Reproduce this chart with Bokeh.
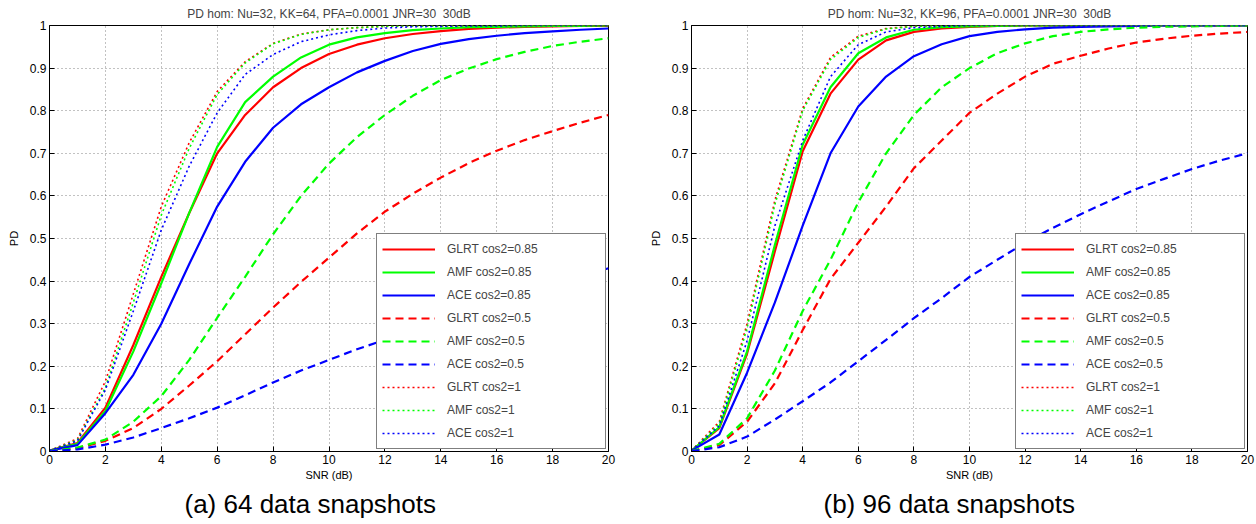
from bokeh.plotting import figure
from bokeh.models import Legend, LegendItem, Title, FixedTicker
from bokeh.layouts import row
from bokeh.embed import file_html
from bokeh.resources import INLINE

FONT = "Liberation Sans"

snr = list(range(21))
x_ticks = [0, 2, 4, 6, 8, 10, 12, 14, 16, 18, 20]
y_ticks = [0, 0.1, 0.2, 0.3, 0.4, 0.5, 0.6, 0.7, 0.8, 0.9, 1]
y_tick_labels = ["0", "0.1", "0.2", "0.3", "0.4", "0.5", "0.6", "0.7", "0.8", "0.9", "1"]

labels = ["GLRT cos2=0.85", "AMF cos2=0.85", "ACE cos2=0.85",
          "GLRT cos2=0.5", "AMF cos2=0.5", "ACE cos2=0.5",
          "GLRT cos2=1", "AMF cos2=1", "ACE cos2=1"]

# KK = 64
glrt085_64 = [0.002, 0.02, 0.103, 0.25, 0.41, 0.56, 0.70, 0.79, 0.855, 0.90, 0.933, 0.955, 0.97, 0.98, 0.987, 0.992, 0.995, 0.997, 0.998, 0.999, 0.999]
amf085_64 = [0.002, 0.018, 0.095, 0.235, 0.395, 0.56, 0.715, 0.82, 0.88, 0.925, 0.955, 0.972, 0.982, 0.989, 0.993, 0.996, 0.997, 0.998, 0.999, 0.999, 1.0]
ace085_64 = [0.002, 0.015, 0.09, 0.18, 0.30, 0.44, 0.575, 0.68, 0.76, 0.815, 0.855, 0.89, 0.917, 0.94, 0.957, 0.968, 0.976, 0.982, 0.986, 0.99, 0.993]
glrt05_64 = [0.001, 0.008, 0.025, 0.055, 0.10, 0.155, 0.212, 0.275, 0.338, 0.398, 0.455, 0.512, 0.563, 0.605, 0.643, 0.677, 0.706, 0.731, 0.752, 0.772, 0.79]
amf05_64 = [0.001, 0.009, 0.028, 0.07, 0.13, 0.215, 0.314, 0.41, 0.51, 0.60, 0.676, 0.738, 0.79, 0.835, 0.872, 0.899, 0.921, 0.938, 0.952, 0.962, 0.97]
ace05_64 = [0.001, 0.005, 0.016, 0.033, 0.055, 0.078, 0.103, 0.132, 0.162, 0.19, 0.215, 0.24, 0.262, 0.285, 0.307, 0.33, 0.35, 0.37, 0.39, 0.41, 0.43]
glrt1_64 = [0.002, 0.03, 0.165, 0.37, 0.575, 0.725, 0.845, 0.915, 0.958, 0.98, 0.99, 0.995, 0.998, 0.999, 0.999, 1, 1, 1, 1, 1, 1]
amf1_64 = [0.002, 0.027, 0.15, 0.35, 0.555, 0.712, 0.838, 0.912, 0.957, 0.979, 0.99, 0.995, 0.998, 0.999, 0.999, 1, 1, 1, 1, 1, 1]
ace1_64 = [0.002, 0.025, 0.145, 0.33, 0.52, 0.67, 0.795, 0.885, 0.932, 0.962, 0.978, 0.988, 0.994, 0.997, 0.998, 0.999, 0.999, 1, 1, 1, 1]

# KK = 96
glrt085_96 = [0.002, 0.055, 0.23, 0.47, 0.705, 0.84, 0.92, 0.965, 0.985, 0.993, 0.997, 0.999, 1, 1, 1, 1, 1, 1, 1, 1, 1]
amf085_96 = [0.002, 0.057, 0.235, 0.485, 0.72, 0.855, 0.935, 0.972, 0.99, 0.996, 0.998, 0.999, 1, 1, 1, 1, 1, 1, 1, 1, 1]
ace085_96 = [0.002, 0.04, 0.185, 0.35, 0.53, 0.70, 0.81, 0.88, 0.928, 0.956, 0.975, 0.985, 0.991, 0.995, 0.997, 0.998, 0.999, 1, 1, 1, 1]
glrt05_96 = [0.001, 0.015, 0.07, 0.16, 0.285, 0.405, 0.49, 0.575, 0.665, 0.73, 0.795, 0.84, 0.88, 0.91, 0.929, 0.946, 0.96, 0.969, 0.976, 0.981, 0.985]
amf05_96 = [0.001, 0.018, 0.078, 0.19, 0.33, 0.45, 0.585, 0.70, 0.79, 0.855, 0.90, 0.935, 0.958, 0.975, 0.985, 0.991, 0.995, 0.997, 0.998, 0.999, 1.0]
ace05_96 = [0.001, 0.01, 0.035, 0.075, 0.118, 0.162, 0.212, 0.262, 0.313, 0.36, 0.41, 0.45, 0.49, 0.525, 0.557, 0.587, 0.616, 0.64, 0.663, 0.683, 0.70]
glrt1_96 = [0.002, 0.07, 0.30, 0.59, 0.805, 0.925, 0.975, 0.993, 0.998, 1, 1, 1, 1, 1, 1, 1, 1, 1, 1, 1, 1]
amf1_96 = [0.002, 0.065, 0.29, 0.58, 0.80, 0.92, 0.972, 0.992, 0.998, 1, 1, 1, 1, 1, 1, 1, 1, 1, 1, 1, 1]
ace1_96 = [0.002, 0.06, 0.26, 0.53, 0.73, 0.88, 0.955, 0.985, 0.995, 0.998, 1, 1, 1, 1, 1, 1, 1, 1, 1, 1, 1]

series64 = [glrt085_64, amf085_64, ace085_64, glrt05_64, amf05_64, ace05_64, glrt1_64, amf1_64, ace1_64]
series96 = [glrt085_96, amf085_96, ace085_96, glrt05_96, amf05_96, ace05_96, glrt1_96, amf1_96, ace1_96]

colors = ["#ff0000", "#00ff00", "#0000ff"] * 3
dashes = ["solid"] * 3 + ["8 5"] * 3 + ["2 3"] * 3
widths = [2.2] * 3 + [2.2] * 3 + [1.6] * 3


def make_fig(title, caption, series, frame_w, border_l, border_r, cap_offset):
    p = figure(frame_width=frame_w, frame_height=426,
               x_range=(0, 20), y_range=(0, 1),
               output_backend="svg", toolbar_location=None,
               min_border_left=border_l, min_border_right=border_r,
               min_border_top=25, min_border_bottom=73,
               background_fill_color="white", border_fill_color="white")
    p.title.text = title
    p.title.align = "center"
    p.title.vertical_align = "middle"
    p.title.text_font = FONT
    p.title.text_font_size = "12px"
    p.title.text_font_style = "normal"
    p.title.standoff = 8
    p.outline_line_color = "black"
    p.outline_line_width = 1

    for ax in (p.xaxis, p.yaxis):
        ax.major_tick_in = 5
        ax.major_tick_out = 0
        ax.minor_tick_line_color = None
        ax.axis_line_color = "black"
        ax.major_tick_line_color = "black"
        ax.major_label_text_font = FONT
        ax.major_label_text_font_size = "12px"
        ax.major_label_text_color = "black"
        ax.axis_label_text_font = FONT
        ax.axis_label_text_font_size = "11px"
        ax.axis_label_text_font_style = "normal"
        ax.axis_label_text_color = "black"
    p.xaxis.ticker = FixedTicker(ticks=x_ticks)
    p.yaxis.ticker = FixedTicker(ticks=y_ticks)
    p.yaxis.major_label_overrides = {t: l for t, l in zip(y_ticks, y_tick_labels)}
    p.xaxis.axis_label = "SNR (dB)"
    p.yaxis.axis_label = "PD"
    p.xaxis.major_label_standoff = 3
    p.yaxis.major_label_standoff = 3
    p.xaxis.axis_label_standoff = 2
    p.yaxis.axis_label_standoff = 7

    for g in (p.xgrid, p.ygrid):
        g.grid_line_color = "#666666"
        g.grid_line_dash = "1 3"
        g.grid_line_width = 1
        g.grid_line_alpha = 0.8

    items = []
    for ys, lab, c, d, w in zip(series, labels, colors, dashes, widths):
        r = p.line(snr, ys, line_color=c, line_dash=d, line_width=w)
        items.append(LegendItem(label=lab, renderers=[r]))

    leg = Legend(items=items, location="bottom_right")
    leg.label_text_font = FONT
    leg.label_text_font_size = "12px"
    leg.glyph_width = 53
    leg.glyph_height = 20
    leg.label_height = 20
    leg.label_width = 153
    leg.label_standoff = 12
    leg.spacing = 3
    leg.padding = 5
    leg.margin = 2
    leg.border_line_color = "black"
    leg.border_line_width = 1.5
    leg.background_fill_color = "white"
    leg.background_fill_alpha = 1
    p.add_layout(leg)

    cap = Title(text=caption, align="left", offset=cap_offset,
                text_font=FONT, text_font_size="26px", text_font_style="normal",
                text_color="black", standoff=7)
    p.add_layout(cap, "below")
    return p


p1 = make_fig("PD hom: Nu=32, KK=64, PFA=0.0001 JNR=30\u00a0 30dB", "(a) 64 data snapshots",
              series64, 559, 49, 38, 135)
p2 = make_fig("PD hom: Nu=32, KK=96, PFA=0.0001 JNR=30\u00a0 30dB", "(b) 96 data snapshots",
              series96, 556, 41, 13, 132)

layout = row(p1, p2)
open("out.html", "w").write(file_html(layout, INLINE))
